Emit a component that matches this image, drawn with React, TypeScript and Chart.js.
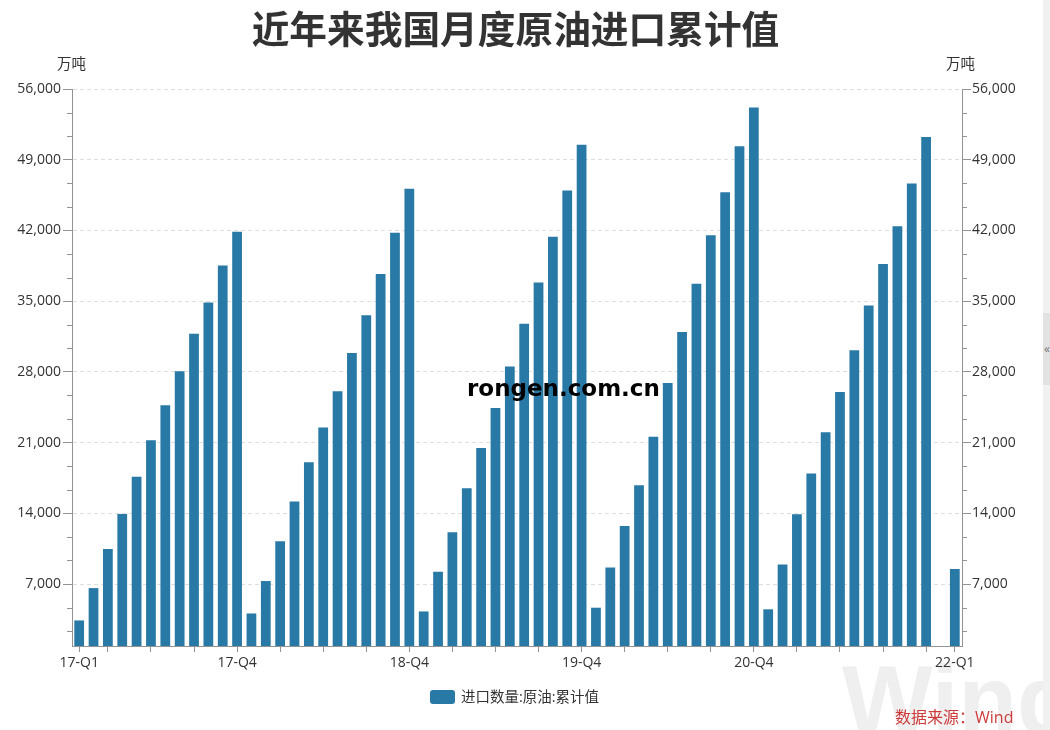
import React, { useEffect, useRef } from 'react';
import { Chart, registerables } from 'chart.js';

Chart.register(...registerables);

// ---------- data ----------
const years = ['2017', '2018', '2019', '2020', '2021', '2022'];
const months = ['01', '02', '03', '04', '05', '06', '07', '08', '09', '10', '11', '12'];

const v2017 = [3400, 6600, 10470, 13930, 17630, 21230, 24700, 28070, 31770, 34870, 38530, 41870];
const v2018 = [4090, 7300, 11230, 15160, 19050, 22490, 26090, 29880, 33610, 37680, 41770, 46130];
const v2019 = [4290, 8220, 12120, 16480, 20470, 24430, 28530, 32760, 36850, 41370, 45960, 50490];
const v2020 = [4660, 8630, 12740, 16770, 21580, 26890, 31950, 36730, 41530, 45790, 50340, 54170];
const v2021 = [4500, 8930, 13920, 17940, 22020, 26010, 30130, 34580, 38670, 42420, 46640, 51260];
const v2022 = [null, 8500];

const yearValues: (number | null)[][] = [v2017, v2018, v2019, v2020, v2021, v2022];

const categories: string[] = [];
const values: (number | null)[] = [];
yearValues.forEach((arr, yi) => {
  arr.forEach((v, mi) => {
    categories.push(years[yi] + '-' + months[mi]);
    values.push(v);
  });
});

const xLabelIndex = [0, 11, 23, 35, 47, 61];
const xLabelText = ['17-Q1', '17-Q4', '18-Q4', '19-Q4', '20-Q4', '22-Q1'];

const yMajorTicks = [7000, 14000, 21000, 28000, 35000, 42000, 49000, 56000];
const yMinorStep = 7000 / 3;
const yMin = 870;
const yMax = 56000;

const seriesLabel = '进口数量:原油:累计值';
const titleText = '近年来我国月度原油进口累计值';
const unitText = '万吨';
const sourceText = '数据来源：Wind';

// ---------- styles ----------
const FONT = "'Open Sans', 'Noto Sans CJK SC', sans-serif";
const BAR_COLOR = '#2879a6';
const AXIS_COLOR = '#939393';
const GRID_COLOR = '#dedede';
const TEXT_COLOR = '#333333';

const isTickMark = (i: number) => i === 0 || i === categories.length - 1 || i % 3 === 2;

const yMinorTicks: number[] = [];
for (let k = 1; k * yMinorStep < yMax; k++) {
  const v = k * yMinorStep;
  if (k % 3 !== 0 && v > yMin) yMinorTicks.push(v);
}

const minorTicksPlugin = {
  id: 'minorTicks',
  afterDraw(chart: any) {
    const ctx = chart.ctx;
    ctx.save();
    ctx.strokeStyle = AXIS_COLOR;
    ctx.lineWidth = 1;
    ['y', 'y2'].forEach((id) => {
      const s = chart.scales[id];
      if (!s) return;
      yMinorTicks.forEach((v) => {
        const py = Math.round(s.getPixelForValue(v)) + 0.5;
        ctx.beginPath();
        if (id === 'y') {
          ctx.moveTo(s.right - 5, py);
          ctx.lineTo(s.right, py);
        } else {
          ctx.moveTo(s.left, py);
          ctx.lineTo(s.left + 5, py);
        }
        ctx.stroke();
      });
    });
    ctx.restore();
  },
};

export default function App() {
  const ref = useRef<HTMLCanvasElement>(null);

  useEffect(() => {
    if (!ref.current) return;
    const yCommon = (position: 'left' | 'right', width: number, pad: number) => ({
      type: 'linear' as const,
      position,
      min: yMin,
      max: yMax,
      afterBuildTicks: (scale: any) => {
        scale.ticks = yMajorTicks.map((v) => ({ value: v }));
      },
      afterFit: (scale: any) => {
        scale.width = width;
      },
      ticks: {
        color: TEXT_COLOR,
        font: { family: FONT, size: 14 },
        padding: pad,
        callback: (v: any) => Number(v).toLocaleString('en-US'),
      },
      grid: {
        drawOnChartArea: position === 'left',
        color: GRID_COLOR,
        lineWidth: 1,
        tickColor: AXIS_COLOR,
        tickLength: 9,
      },
      border: { display: true, color: AXIS_COLOR, width: 1, dash: [4, 3] },
    });

    const chart = new Chart(ref.current, {
      type: 'bar',
      data: {
        labels: categories,
        datasets: [
          {
            label: seriesLabel,
            data: values,
            backgroundColor: BAR_COLOR,
            borderWidth: 0,
            categoryPercentage: 1,
            barPercentage: 0.68,
            yAxisID: 'y',
          },
        ],
      },
      options: {
        animation: false,
        responsive: false,
        maintainAspectRatio: false,
        layout: { padding: { top: 89, bottom: 0, left: 0, right: 0 } },
        plugins: {
          legend: { display: false },
          title: { display: false },
          tooltip: { enabled: false },
        },
        scales: {
          x: {
            type: 'category',
            afterFit: (scale: any) => {
              scale.height = 84;
            },
            grid: {
              offset: false,
              drawOnChartArea: false,
              tickLength: 6,
              tickColor: (ctx: any) => (isTickMark(ctx.index) ? AXIS_COLOR : 'rgba(0,0,0,0)'),
            },
            border: { display: true, color: AXIS_COLOR, width: 1 },
            ticks: {
              autoSkip: false,
              maxRotation: 0,
              minRotation: 0,
              padding: 3,
              color: TEXT_COLOR,
              font: { family: FONT, size: 14 },
              callback: (_v: any, index: number) => {
                const k = xLabelIndex.indexOf(index);
                return k >= 0 ? xLabelText[k] : '';
              },
            },
          },
          y: yCommon('left', 72, 2) as any,
          y2: yCommon('right', 88, 1) as any,
        },
      },
      plugins: [minorTicksPlugin],
    });
    return () => chart.destroy();
  }, []);

  return (
    <div
      style={{
        position: 'fixed',
        left: 0,
        top: 0,
        width: 1050,
        height: 730,
        background: '#ffffff',
        overflow: 'hidden',
        fontFamily: FONT,
      }}
    >
      {/* Wind watermark */}
      <div
        style={{
          position: 'absolute',
          left: 842,
          top: 652,
          fontFamily: "'Liberation Sans Narrow', 'Liberation Sans', sans-serif",
          fontWeight: 700,
          fontSize: 96,
          lineHeight: '96px',
          color: '#efefef',
          whiteSpace: 'nowrap',
        }}
      >
        Wind
      </div>

      {/* right side strip */}
      <div style={{ position: 'absolute', left: 1043, top: 0, width: 7, height: 730, background: '#f1f1f1' }} />
      <div
        style={{
          position: 'absolute',
          left: 1043,
          top: 313,
          width: 7,
          height: 72,
          background: '#e2e2e2',
          color: '#777',
          fontSize: 12,
          lineHeight: '72px',
          overflow: 'hidden',
          paddingLeft: 1,
        }}
      >
        «
      </div>

      <canvas
        ref={ref}
        width={1050}
        height={730}
        style={{ position: 'absolute', left: 0, top: 0, width: 1050, height: 730 }}
      />

      {/* title */}
      <div
        style={{
          position: 'absolute',
          left: 0,
          top: 7,
          width: 1031,
          textAlign: 'center',
          fontFamily: "'Noto Sans CJK SC', sans-serif",
          fontWeight: 700,
          fontSize: 37.7,
          lineHeight: '39px',
          color: '#333333',
          whiteSpace: 'nowrap',
        }}
      >
        {titleText}
      </div>

      {/* units */}
      <div
        style={{
          position: 'absolute',
          left: 57,
          top: 55,
          fontSize: 14.5,
          lineHeight: '18px',
          color: TEXT_COLOR,
        }}
      >
        {unitText}
      </div>
      <div
        style={{
          position: 'absolute',
          left: 946,
          top: 55,
          fontSize: 14.5,
          lineHeight: '18px',
          color: TEXT_COLOR,
        }}
      >
        {unitText}
      </div>

      {/* legend */}
      <div
        style={{
          position: 'absolute',
          left: 430,
          top: 690,
          width: 25,
          height: 14,
          borderRadius: 3,
          background: BAR_COLOR,
        }}
      />
      <div
        style={{
          position: 'absolute',
          left: 461,
          top: 688,
          fontSize: 14.5,
          lineHeight: '18px',
          color: TEXT_COLOR,
          whiteSpace: 'nowrap',
        }}
      >
        {seriesLabel}
      </div>

      {/* source */}
      <div
        style={{
          position: 'absolute',
          left: 895,
          top: 707,
          fontSize: 16,
          lineHeight: '20px',
          color: '#cc3a3a',
          whiteSpace: 'nowrap',
        }}
      >
        {sourceText}
      </div>

      {/* site watermark */}
      <div
        style={{
          position: 'absolute',
          left: 467,
          top: 374,
          fontFamily: "'DejaVu Sans', sans-serif",
          fontWeight: 700,
          fontSize: 23,
          lineHeight: '28px',
          color: '#000000',
          whiteSpace: 'nowrap',
        }}
      >
        rongen.com.cn
      </div>
    </div>
  );
}
